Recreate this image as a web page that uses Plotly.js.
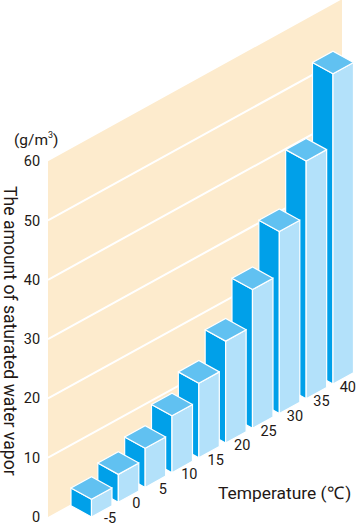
<!DOCTYPE html>
<html>
<head>
<meta charset="utf-8">
<script src="https://cdn.plot.ly/plotly-3.0.1.min.js"></script>
<style>html,body{margin:0;padding:0;background:#fff}#c{width:356px;height:525px}</style>
</head>
<body>
<div id="c"></div>
<script>
const temperatures = ['-5','0','5','10','15','20','25','30','35','40'];
const vapor = [3.0,4.7,6.6,9.6,12.6,17.2,23.4,30.7,40.1,52.3];
const yTicks = [0,10,20,30,40,50,60];
const gridLevels = [10,20,30,40,50];

// Oblique projection: x axis is one category step, y axis is g/m3.
const RISE = 2.4924;        // g/m3 the floor climbs per category step
const WALL_L = -1.621, WALL_R = 9.336, WALL_TOP = 60;
const HALF_X = 0.764, HALF_Y = 1.906; // half-diagonals of a bar's footprint
const FONT = 'Roboto, sans-serif';
const INK = '#231815';

const wallY = (x, v) => v + (x - WALL_L) * RISE;
const poly = (pts, fill) => ({
  x: pts.map(p => p[0]).concat(pts[0][0]),
  y: pts.map(p => p[1]).concat(pts[0][1]),
  type: 'scatter', mode: 'lines', fill: 'toself', fillcolor: fill,
  line: {color: '#fff', width: 1.2}, hoverinfo: 'skip', showlegend: false
});

const traces = [];
traces.push(Object.assign(poly([
  [WALL_L, wallY(WALL_L, 0)], [WALL_R, wallY(WALL_R, 0)],
  [WALL_R, wallY(WALL_R, WALL_TOP)], [WALL_L, wallY(WALL_L, WALL_TOP)]
], '#FDEBCD'), {line: {width: 0, color: '#FDEBCD'}}));

gridLevels.forEach(g => traces.push({
  x: [WALL_L, WALL_R], y: [wallY(WALL_L, g), wallY(WALL_R, g)],
  type: 'scatter', mode: 'lines', line: {color: '#fff', width: 2},
  hoverinfo: 'skip', showlegend: false
}));

for (let i = vapor.length - 1; i >= 0; i--) {
  const b = i * RISE, v = b + vapor[i];
  traces.push(poly([[i - HALF_X, b + HALF_Y], [i, b], [i, v], [i - HALF_X, v + HALF_Y]], '#00A0E9'));
  traces.push(poly([[i + HALF_X, b + HALF_Y], [i, b], [i, v], [i + HALF_X, v + HALF_Y]], '#B3E1FA'));
  traces.push(poly([[i, v], [i + HALF_X, v + HALF_Y], [i, v + 2 * HALF_Y], [i - HALF_X, v + HALF_Y]], '#61C1F1'));
}

traces.push({
  x: temperatures.map((t, i) => 0.69 + i * 0.985),
  y: temperatures.map((t, i) => -0.35 + i * 2.45),
  text: temperatures, type: 'scatter', mode: 'text', textposition: 'middle center',
  textfont: {family: FONT, size: 14.5, color: INK}, hoverinfo: 'skip', showlegend: false,
  cliponaxis: false
});

const layout = {
  width: 356, height: 525,
  margin: {l: 48, r: 0, t: 0, b: 0},
  paper_bgcolor: '#fff', plot_bgcolor: 'rgba(0,0,0,0)',
  showlegend: false,
  xaxis: {range: [-1.621, 9.858], visible: false, fixedrange: true},
  yaxis: {
    range: [-1.349, 87.18], tickmode: 'array', tickvals: yTicks, ticktext: yTicks.map(String),
    ticks: 'outside', ticklen: 4, tickcolor: 'rgba(0,0,0,0)', showgrid: false, zeroline: false,
    showline: false, ticklabeloverflow: 'allow', tickfont: {family: FONT, size: 14.5, color: INK}, fixedrange: true
  },
  annotations: [
    {xref: 'paper', yref: 'paper', x: (10 - 48) / 308, y: 1 - 331 / 525, text: 'The amount of saturated water vapor',
     textangle: 90, showarrow: false, xanchor: 'center', yanchor: 'middle',
     font: {family: FONT, size: 17.6, color: INK}},
    {xref: 'paper', yref: 'paper', x: (284 - 48) / 308, y: 1 - 493 / 525, text: 'Temperature\u00A0(\u2103\u200A)',
     showarrow: false, xanchor: 'center', yanchor: 'middle',
     font: {family: FONT, size: 17.4, color: INK}},
    {xref: 'paper', yref: 'paper', x: (36 - 48) / 308, y: 1 - 139 / 525, text: '(g/m<sup><span style="font-size:9px">3</span></sup>)',
     showarrow: false, xanchor: 'center', yanchor: 'middle',
     font: {family: FONT, size: 15.5, color: INK}}
  ]
};
Plotly.newPlot('c', traces, layout, {displayModeBar: false, staticPlot: true});
</script>
</body>
</html>
